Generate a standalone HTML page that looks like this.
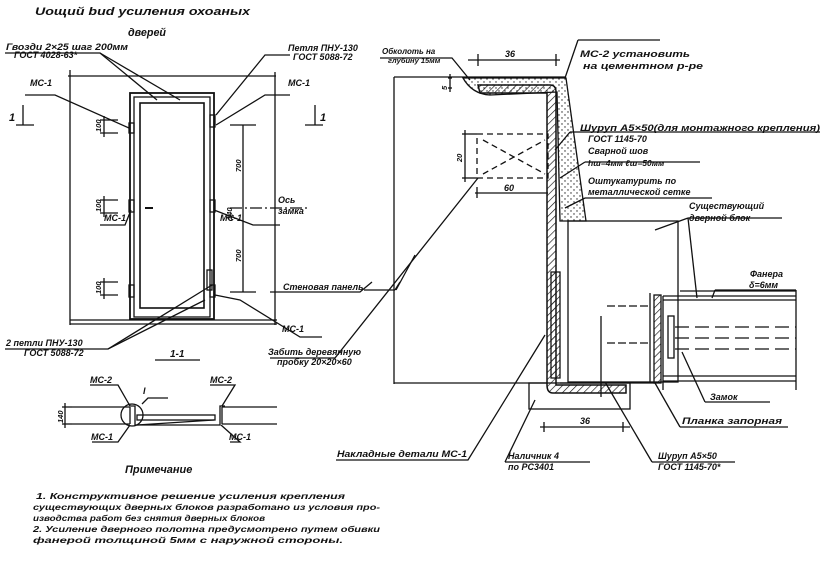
<!DOCTYPE html>
<html><head><meta charset="utf-8"><style>
html,body{margin:0;padding:0;background:#fff;}
svg{display:block}
text{font-family:"Liberation Sans",sans-serif;font-style:italic;font-weight:bold;fill:#111;}
</style></head><body>
<svg width="826" height="568" viewBox="0 0 826 568" xmlns="http://www.w3.org/2000/svg">
<defs>
<pattern id="h" width="5" height="5" patternUnits="userSpaceOnUse" patternTransform="rotate(45)"><line x1="0" y1="0" x2="0" y2="5" stroke="#111" stroke-width="1.3"/></pattern>
<pattern id="d" width="6" height="6" patternUnits="userSpaceOnUse"><circle cx="1" cy="1" r="0.7" fill="#222"/><circle cx="4" cy="4" r="0.7" fill="#222"/></pattern>
</defs>
<g stroke="#111" fill="none" stroke-width="1.3">
<line x1="68" y1="76" x2="276" y2="76"/>
<line x1="70" y1="70" x2="70" y2="325"/>
<line x1="275" y1="72" x2="275" y2="325"/>
<line x1="70" y1="320" x2="277" y2="320"/><line x1="70" y1="324" x2="277" y2="324"/>
<rect x="130" y="93" width="84" height="226" stroke-width="1.8"/>
<rect x="134" y="97" width="76" height="220"/>
<rect x="140" y="103" width="64" height="205" stroke-width="1.6"/>
<rect x="129" y="123" width="5" height="10"/><rect x="129" y="200" width="5" height="12"/><rect x="129" y="285" width="5" height="12"/>
<rect x="210" y="115" width="5" height="12"/><rect x="210" y="200" width="5" height="12"/><rect x="207" y="270" width="5" height="20"/><rect x="210" y="285" width="5" height="12"/>
<line x1="145" y1="208" x2="153" y2="208" stroke-width="2"/>
<line x1="230" y1="208" x2="310" y2="208" stroke-dasharray="12,3,2,3"/>
<line x1="243" y1="125" x2="243" y2="292"/><line x1="230" y1="125" x2="256" y2="125"/><line x1="230" y1="292" x2="256" y2="292"/>
<line x1="100" y1="120" x2="118" y2="120"/><line x1="100" y1="133" x2="118" y2="133"/><line x1="104" y1="116" x2="104" y2="137"/>
<line x1="100" y1="200" x2="118" y2="200"/><line x1="100" y1="213" x2="118" y2="213"/><line x1="104" y1="196" x2="104" y2="217"/>
<line x1="100" y1="282" x2="118" y2="282"/><line x1="100" y1="295" x2="118" y2="295"/><line x1="104" y1="278" x2="104" y2="299"/>
<line x1="16" y1="125" x2="34" y2="125"/><line x1="23" y1="105" x2="23" y2="125"/>
<line x1="305" y1="125" x2="323" y2="125"/><line x1="315" y1="105" x2="315" y2="125"/>
<polyline points="5,53 100,53 157,100"/><line x1="100" y1="53" x2="180" y2="100"/>
<polyline points="290,55 265,55 216,115"/><polyline points="290,95 265,95 216,125"/>
<polyline points="25,95 55,95 129,128"/><polyline points="100,225 125,225 131,210"/>
<polyline points="280,225 253,225 214,210"/>
<polyline points="270,292 360,292 372,282"/>
<polyline points="5,349 108,349 205,300"/><line x1="108" y1="349" x2="212" y2="285"/>
<polyline points="322,337 300,337 240,300 215,295"/>
<line x1="155" y1="360" x2="200" y2="360"/>
<line x1="72" y1="407" x2="130" y2="407"/><line x1="72" y1="424" x2="130" y2="424"/>
<line x1="222" y1="407" x2="277" y2="407"/><line x1="222" y1="424" x2="277" y2="424"/>
<line x1="130" y1="407" x2="130" y2="424"/><line x1="222" y1="407" x2="222" y2="424"/>
<polyline points="130,406 135,406 135,425 220,425 220,406 225,406"/>
<rect x="137" y="415" width="78" height="5"/>
<line x1="137" y1="425" x2="214" y2="420"/>
<circle cx="132" cy="415" r="11"/>
<line x1="62" y1="407" x2="72" y2="407"/><line x1="62" y1="424" x2="72" y2="424"/><line x1="65" y1="403" x2="65" y2="428"/>
<polyline points="90,385 118,385 130,406"/><polyline points="168,398 148,398 142,404"/>
<polyline points="210,385 235,385 222,406"/>
<polyline points="92,442 118,442 130,425"/><polyline points="230,442 240,442 221,425"/>
<line x1="394" y1="77" x2="394" y2="384"/>
<line x1="394" y1="77" x2="566" y2="77"/>
<line x1="394" y1="383" x2="547" y2="383"/>
<line x1="560" y1="383" x2="655" y2="383"/>
<path d="M463,78 L566,78 L586,221 L560,221 L557,92 L490,95 Q472,94 463,78Z" fill="url(#d)" stroke="#111"/>
<path d="M478,85 L550,85 Q556,85 556,92 L556,385 L626,385 L626,393 L553,393 Q547,393 547,385 L547,93 L480,93 Z" fill="url(#h)" stroke-width="1.5"/>
<path d="M551,272 L560,272 L560,378 L551,378 Z" fill="url(#h)"/>
<rect x="568" y="221" width="110" height="161"/>
<rect x="529" y="383" width="101" height="26"/>
<rect x="477" y="134" width="71" height="44" stroke-dasharray="6,4"/>
<line x1="483" y1="140" x2="545" y2="174" stroke-dasharray="6,4"/><line x1="483" y1="174" x2="545" y2="140" stroke-dasharray="6,4"/>
<line x1="462" y1="134" x2="477" y2="134"/><line x1="462" y1="178" x2="477" y2="178"/><line x1="465" y1="130" x2="465" y2="182"/>
<line x1="475" y1="193" x2="548" y2="193"/><line x1="477" y1="187" x2="477" y2="198"/>
<line x1="468" y1="60" x2="560" y2="60"/><line x1="478" y1="54" x2="478" y2="66"/><line x1="556" y1="54" x2="556" y2="66"/>
<line x1="448" y1="88" x2="452" y2="88"/><line x1="448" y1="78" x2="452" y2="78"/><line x1="450" y1="74" x2="450" y2="92"/>
<line x1="540" y1="427" x2="630" y2="427"/><line x1="544" y1="422" x2="544" y2="432"/><line x1="623" y1="422" x2="623" y2="432"/>
<rect x="654" y="295" width="7" height="88" fill="url(#h)"/>
<line x1="650" y1="293" x2="650" y2="383"/>
<line x1="663" y1="296" x2="796" y2="296"/><line x1="663" y1="300" x2="796" y2="300"/>
<line x1="680" y1="291" x2="796" y2="291"/>
<line x1="663" y1="376" x2="796" y2="376"/><line x1="663" y1="381" x2="796" y2="381"/>
<line x1="663" y1="296" x2="663" y2="390"/><line x1="796" y1="290" x2="796" y2="390"/>
<line x1="675" y1="327" x2="796" y2="327" stroke-dasharray="14,6"/><line x1="675" y1="338" x2="796" y2="338" stroke-dasharray="14,6"/><line x1="675" y1="349" x2="796" y2="349" stroke-dasharray="14,6"/>
<rect x="668" y="316" width="6" height="42"/>
<line x1="607" y1="306" x2="650" y2="306" stroke-dasharray="8,3"/><line x1="607" y1="343" x2="650" y2="343" stroke-dasharray="8,3"/>
<line x1="601" y1="316" x2="601" y2="397"/>
<polyline points="380,58 452,58 470,80"/>
<polyline points="578,40 660,40"/><line x1="578" y1="40" x2="565" y2="78"/>
<polyline points="570,132 820,132"/><line x1="570" y1="132" x2="555" y2="150"/>
<polyline points="585,162 700,162"/><line x1="585" y1="162" x2="560" y2="178"/>
<polyline points="585,198 712,198"/><line x1="585" y1="198" x2="565" y2="208"/>
<polyline points="688,218 782,218"/><line x1="688" y1="218" x2="655" y2="230"/><line x1="688" y1="218" x2="697" y2="298"/>
<polyline points="715,290 796,290"/><line x1="715" y1="290" x2="712" y2="298"/>
<polyline points="336,460 468,460 545,335"/>
<polyline points="364,290 395,290"/><line x1="395" y1="290" x2="400" y2="282"/>
<line x1="396" y1="290" x2="415" y2="255"/>
<polyline points="270,358 335,358 478,178"/>
<polyline points="505,462 590,462"/><line x1="505" y1="462" x2="535" y2="400"/>
<polyline points="652,462 735,462"/><line x1="652" y1="462" x2="605" y2="382"/>
<polyline points="680,427 788,427"/><line x1="680" y1="427" x2="655" y2="383"/>
<polyline points="705,402 770,402"/><line x1="705" y1="402" x2="682" y2="352"/>
</g>
<g font-size="9">
<text x="35" y="15" font-size="11" textLength="215" lengthAdjust="spacingAndGlyphs">Uoщий bиd   усиления    охоаных</text>
<text x="128" y="36" font-size="11" textLength="38" lengthAdjust="spacingAndGlyphs">дверей</text>
<text x="6" y="50" textLength="122" lengthAdjust="spacingAndGlyphs">Гвозди 2×25 шаг 200мм</text>
<text x="14" y="58">ГОСТ 4028-63*</text>
<text x="288" y="51">Петля ПНУ-130</text>
<text x="293" y="60">ГОСТ 5088-72</text>
<text x="30" y="86">МС-1</text><text x="288" y="86">МС-1</text>
<text x="9" y="121" font-size="11">1</text><text x="320" y="121" font-size="11">1</text>
<text x="104" y="221">МС-1</text><text x="220" y="221">МС-1</text>
<text x="278" y="203">Ось</text><text x="278" y="214">замка</text>
<text x="283" y="290">Стеновая панель</text>
<text x="282" y="332">МС-1</text>
<text x="6" y="346">2 петли ПНУ-130</text><text x="24" y="356">ГОСТ 5088-72</text>
<text x="170" y="357" font-size="10">1-1</text>
<text x="268" y="355">Забить деревянную</text><text x="277" y="365">пробку 20×20×60</text>
<text x="90" y="383">МС-2</text><text x="143" y="394">I</text><text x="210" y="383">МС-2</text>
<text x="91" y="440">МС-1</text><text x="229" y="440">МС-1</text>
<text x="125" y="473" font-size="11" font-weight="normal">Примечание</text>
<text x="36" y="499" font-size="8.5" textLength="309" lengthAdjust="spacingAndGlyphs">1. Конструктивное решение  усиления  крепления</text>
<text x="33" y="510" font-size="8.5" textLength="347" lengthAdjust="spacingAndGlyphs">существующих дверных блоков разработано из условия про-</text>
<text x="33" y="521" font-size="8.5" textLength="232" lengthAdjust="spacingAndGlyphs">изводства работ без снятия  дверных блоков</text>
<text x="33" y="532" font-size="8.5" textLength="347" lengthAdjust="spacingAndGlyphs">2. Усиление дверного полотна предусмотрено путем обивки</text>
<text x="33" y="543" font-size="8.5" textLength="310" lengthAdjust="spacingAndGlyphs">фанерой толщиной 5мм с наружной  стороны.</text>
<text x="382" y="54" font-size="8">Обколоть на</text><text x="388" y="63" font-size="7.5">глубину 15мм</text>
<text x="505" y="57">36</text>
<text x="580" y="57" textLength="110" lengthAdjust="spacingAndGlyphs">МС-2 установить</text><text x="583" y="69" textLength="120" lengthAdjust="spacingAndGlyphs">на цементном р-ре</text>
<text x="580" y="131" textLength="240" lengthAdjust="spacingAndGlyphs">Шуруп А5×50(для монтажного крепления)</text>
<text x="588" y="142">ГОСТ 1145-70</text>
<text x="588" y="154">Сварной шов</text>
<text x="588" y="166" font-size="8.5">hш=4мм  ℓш=50мм</text>
<text x="588" y="184">Оштукатурить по</text>
<text x="588" y="195">металлической сетке</text>
<text x="504" y="191">60</text>
<text x="689" y="209">Существующий</text><text x="689" y="221">дверной блок</text>
<text x="750" y="277">Фанера</text><text x="749" y="288">δ=6мм</text>
<text x="710" y="400">Замок</text>
<text x="682" y="424" textLength="100" lengthAdjust="spacingAndGlyphs">Планка запорная</text>
<text x="337" y="457" textLength="130" lengthAdjust="spacingAndGlyphs">Накладные детали МС-1</text>
<text x="580" y="424">36</text>
<text x="508" y="459">Наличник 4</text><text x="508" y="470">по РС3401</text>
<text x="658" y="459">Шуруп  А5×50</text><text x="658" y="470">ГОСТ 1145-70*</text>
</g>
<g font-size="7.5">
<text transform="translate(101,132) rotate(-90)">100</text>
<text transform="translate(101,212) rotate(-90)">100</text>
<text transform="translate(101,294) rotate(-90)">100</text>
<text transform="translate(241,172) rotate(-90)">700</text>
<text transform="translate(241,262) rotate(-90)">700</text>
<text transform="translate(232,220) rotate(-90)">140</text>
<text transform="translate(63,423) rotate(-90)">140</text>
<text transform="translate(462,162) rotate(-90)">20</text>
<text transform="translate(447,90) rotate(-90)">5</text>
</g>
</svg>
</body></html>
